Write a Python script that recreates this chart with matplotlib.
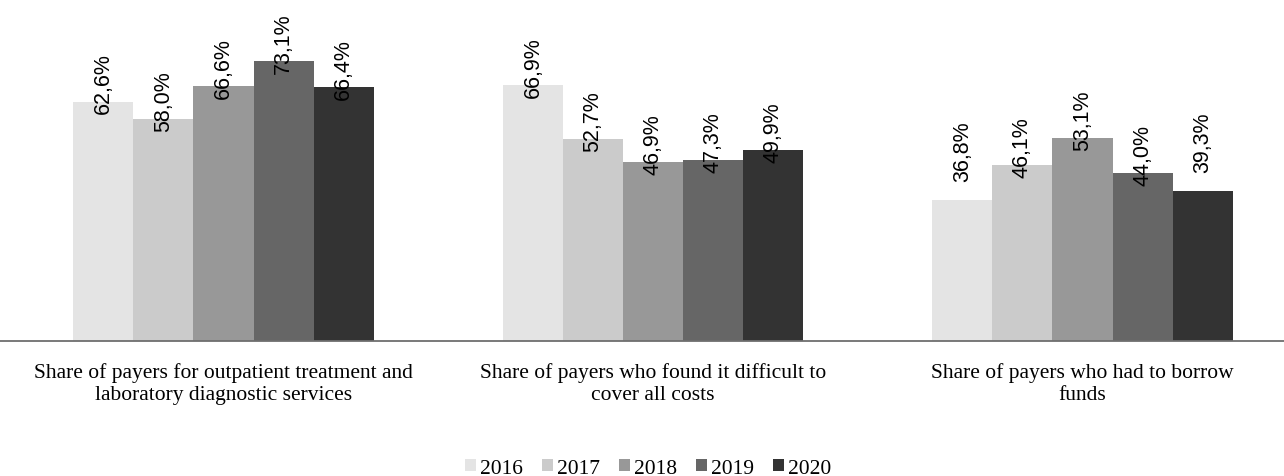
import matplotlib
matplotlib.use('Agg')
import matplotlib.pyplot as plt
import numpy as np

categories = [
    'Share of payers for outpatient treatment and\nlaboratory diagnostic services',
    'Share of payers who found it difficult to\ncover all costs',
    'Share of payers who had to borrow\nfunds',
]
years = ['2016', '2017', '2018', '2019', '2020']
shares = {
    '2016': [62.6, 66.9, 36.8],
    '2017': [58.0, 52.7, 46.1],
    '2018': [66.6, 46.9, 53.1],
    '2019': [73.1, 47.3, 44.0],
    '2020': [66.4, 49.9, 39.3],
}
colors = ['#e4e4e4', '#cbcbcb', '#989898', '#666666', '#333333']

# labels drawn just above the bar instead of inside its top end
outside_labels = {(2, 0), (2, 4)}

fig = plt.figure(figsize=(12.84, 4.77), dpi=100)
ax = fig.add_axes([0, 135 / 477, 1, 306 / 477])

x = np.arange(len(categories))
width = 0.1397
for i, year in enumerate(years):
    offset = (i - 2) * width
    vals = shares[year]
    ax.bar(x + offset, vals, width, color=colors[i], label=year, zorder=2)
    for j, v in enumerate(vals):
        dy = 13.7 if (j, i) in outside_labels else -8.6
        ax.annotate('{:.1f}%'.format(v).replace('.', ','),
                    xy=(x[j] + offset, v), xytext=(0, dy),
                    textcoords='offset points', rotation=90,
                    ha='center', va='bottom', fontsize=15.5,
                    family='Liberation Sans', color='black', zorder=3)

ax.set_xlim(-223.5 / 429.5, (1284 - 223.5) / 429.5)
ax.set_ylim(0, 80)
for side in ['top', 'right', 'left']:
    ax.spines[side].set_visible(False)
ax.spines['bottom'].set_color('#6e6e6e')
ax.spines['bottom'].set_linewidth(1.3)
ax.set_yticks([])
ax.set_xticks(x)
ax.set_xticklabels(categories, family='Liberation Serif', fontsize=15.5,
                   linespacing=1.25)
ax.tick_params(axis='x', length=0, pad=15)

fig.legend(loc='center', bbox_to_anchor=(0.505, 0.016), ncol=5, frameon=False,
           prop={'family': 'Liberation Serif', 'size': 15.5},
           handlelength=0.5, handleheight=0.5, handletextpad=0.2,
           columnspacing=0.88, borderpad=0)

fig.savefig('out.png', dpi=100)
